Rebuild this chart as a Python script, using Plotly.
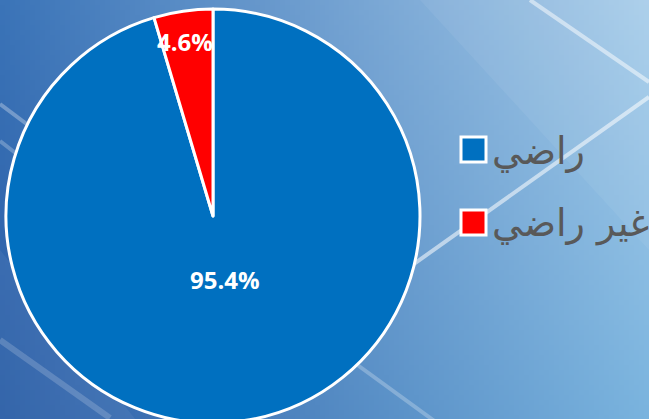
import numpy as np
import plotly.graph_objects as go

# ---- data ----
categories = ["راضي", "غير راضي"]
values = [95.4, 4.6]
colors = ["#0070c0", "#ff0000"]

W, H = 649, 425  # figure is slightly taller than the window; bottom of the pie is cut off

# pie geometry (pixels)
CX, CY, R = 213, 216, 207
label_r = [0.31, 0.85]
label_dx = [3, -3]

# ---- background gradient (decoration) ----
gw, gh = 130, 85
tl = np.array([59, 116, 184]); tr = np.array([168, 205, 234])
bl = np.array([42, 93, 166]); br = np.array([121, 179, 222])
u = np.linspace(0, 1, gw)[None, :, None]
v = np.linspace(0, 1, gh)[:, None, None]
img = (tl * (1 - u) * (1 - v) + tr * u * (1 - v) + bl * (1 - u) * v + br * u * v)
img = np.clip(img, 0, 255).astype(np.uint8)

fig = go.Figure()
fig.add_trace(go.Image(z=img, x0=W / gw / 2, dx=W / gw, y0=H / gh / 2, dy=H / gh,
                       zsmooth="fast", hoverinfo="skip"))

bands = [
    ([300, 649, 649, 420], [0, 0, 250, 0], 0.06),
    ([0, 140, 0], [250, 425, 425], 0.05),
]
for bx, by, op in bands:
    fig.add_trace(go.Scatter(x=bx + [bx[0]], y=by + [by[0]], fill="toself", mode="none",
                             fillcolor=f"rgba(255,255,255,{op})", hoverinfo="skip"))

lines = [
    ([380, 649], [288, 97], 4, 0.55),
    ([530, 649], [0, 82], 4, 0.5),
    ([0, 40], [104, 134], 4, 0.3),
    ([0, 40], [141, 172], 4, 0.25),
    ([0, 110], [340, 418], 6, 0.18),
    ([330, 440], [345, 425], 4, 0.25),
]
for lx, ly, lw, op in lines:
    fig.add_trace(go.Scatter(x=lx, y=ly, mode="lines", hoverinfo="skip",
                             line=dict(color=f"rgba(255,255,255,{op})", width=lw)))

# ---- pie ----
fig.add_trace(go.Pie(
    labels=categories, values=values, sort=False, direction="clockwise", rotation=0,
    marker=dict(colors=colors, line=dict(color="white", width=3)),
    textinfo="none",
    domain=dict(x=[(CX - R) / W, (CX + R) / W], y=[(H - CY - R) / H, (H - CY + R) / H]),
    showlegend=False, hoverinfo="label+percent",
))

# percentage labels placed along each slice's mid-angle
total = sum(values)
cum = 0.0
for val, rf, ddx in zip(values, label_r, label_dx):
    mid = (cum + val / 2) / total * 2 * np.pi
    cum += val
    lx = CX + rf * R * np.sin(mid) + ddx
    ly = CY - rf * R * np.cos(mid)
    fig.add_annotation(xref="x", yref="y", x=lx, y=ly, showarrow=False,
                       text=f"{val / total * 100:.1f}%",
                       font=dict(size=24, color="white", family="Open Sans", weight="bold"))

# ---- manual legend ----
legend_y = [149.5, 222.5]
for cat, col, ly in zip(categories, colors, legend_y):
    fig.add_shape(type="rect", xref="x", yref="y", x0=461, x1=486, y0=ly - 12.5, y1=ly + 12.5,
                  fillcolor=col, line=dict(color="white", width=3))
    fig.add_annotation(xref="x", yref="y", x=490, y=ly + 1, xanchor="left", yanchor="middle",
                       text=cat, showarrow=False,
                       font=dict(size=38, color="#595959", family="DejaVu Sans"))

fig.update_layout(
    width=W, height=H, margin=dict(l=0, r=0, t=0, b=0),
    showlegend=False,
    paper_bgcolor="#5a8fc8", plot_bgcolor="rgba(0,0,0,0)",
    xaxis=dict(range=[0, W], visible=False, domain=[0, 1], fixedrange=True),
    yaxis=dict(range=[H, 0], visible=False, domain=[0, 1], fixedrange=True),
    font=dict(family="Open Sans"),
)

fig.write_html("out.html", config={"displayModeBar": False},
               post_script="document.body.style.margin='0';document.body.style.overflow='hidden';"
                           "document.documentElement.style.overflow='hidden';")
